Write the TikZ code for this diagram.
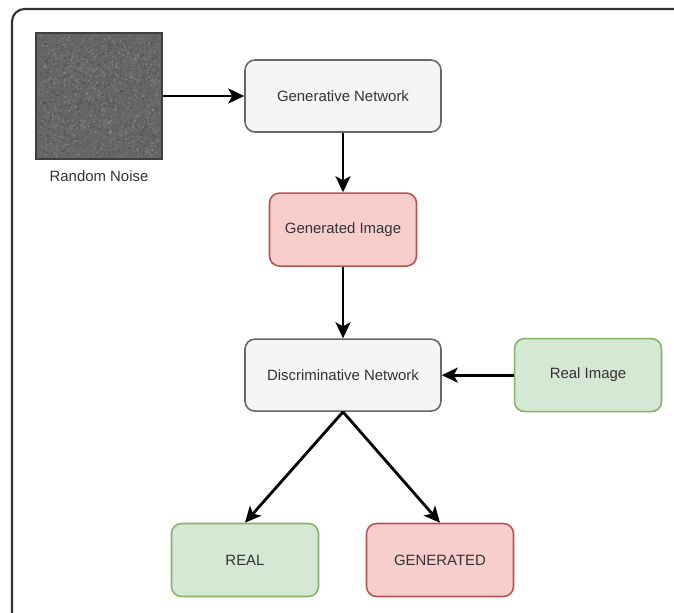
\documentclass[tikz,border=0pt]{standalone}
\usepackage{fontspec}
\setmainfont{Liberation Sans}
\usetikzlibrary{arrows.meta,positioning}
\definecolor{txtgray}{HTML}{333333}
\definecolor{boxgray}{HTML}{F5F5F5}
\definecolor{linegray}{HTML}{666666}
\definecolor{boxred}{HTML}{F8CECC}
\definecolor{linered}{HTML}{B85450}
\definecolor{boxgreen}{HTML}{D5E8D4}
\definecolor{linegreen}{HTML}{82B366}
\definecolor{noisegray}{HTML}{666666}

\begin{document}
\begin{tikzpicture}[x=0.02cm, y=-0.02cm, >={Stealth[length=0.32cm,width=0.3cm,inset=0.08cm]},
  font=\fontsize{8.5}{10}\selectfont, text=txtgray,
  net/.style={draw=linegray, fill=boxgray, line width=0.9pt, rounded corners=0.2cm,
              minimum width=3.92cm, minimum height=1.44cm, align=center},
  fake/.style={draw=linered, fill=boxred, line width=0.9pt, rounded corners=0.2cm,
               minimum width=2.94cm, minimum height=1.46cm, align=center},
  real/.style={draw=linegreen, fill=boxgreen, line width=0.9pt, rounded corners=0.2cm,
               minimum width=2.94cm, minimum height=1.46cm, align=center},
  flow/.style={->, line width=1.6pt, black}]
\clip (0,0) rectangle (674,613);
% outer frame, cut off at the right and bottom
\draw[line width=1.2pt, txtgray, rounded corners=0.25cm] (12,9) rectangle (700,640);
% noise image
\node[draw=black!75, fill=noisegray, line width=0.8pt, minimum size=2.52cm, inner sep=0pt] (noise) at (99,96) {};
\pgfmathsetseed{11}
\foreach \i in {1,...,900}
  \fill[white, opacity=0.13] (noise.center) ++(1.2cm*rand, 1.2cm*rand) circle (0.02cm);
\foreach \i in {1,...,900}
  \fill[black, opacity=0.13] (noise.center) ++(1.2cm*rand, 1.2cm*rand) circle (0.02cm);
\node[below=0.1cm of noise] (noiselbl) {Random Noise};
% generator side
\node[net] (gen) at (343,96) {Generative Network};
\node[fake, below=1.19cm of gen] (genimg) {Generated Image};
% discriminator side
\node[net, below=1.43cm of genimg] (disc) {Discriminative Network};
\node[real, right=1.44cm of disc] (realimg) {Real Image};
% outputs
\node[real] (outreal) at (245,560) {REAL};
\node[fake] (outgen) at (440,560) {GENERATED};
% connectors
\draw[flow] (noise) -- (gen);
\draw[flow] (gen) -- (genimg);
\draw[flow] (genimg) -- (disc);
\draw[flow] (realimg) -- (disc);
\draw[flow] (disc.south) -- (outreal.north);
\draw[flow] (disc.south) -- (outgen.north);
\end{tikzpicture}
\end{document}
